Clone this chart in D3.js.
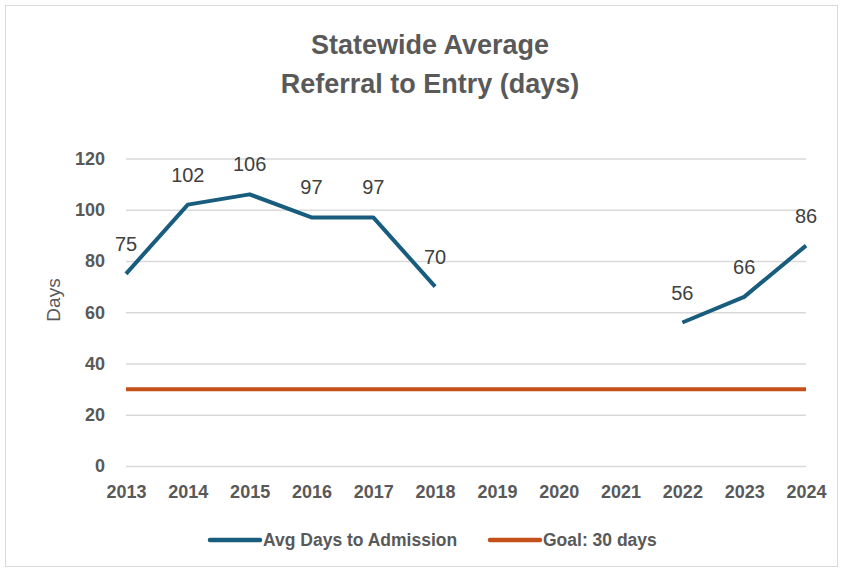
<!DOCTYPE html>
<html>
<head>
<meta charset="utf-8">
<script src="https://cdn.jsdelivr.net/npm/d3@7"></script>
<style>
  body { margin: 0; background: #fff; }
  svg { display: block; }
</style>
</head>
<body>
<svg id="chart" width="845" height="571"></svg>
<script>
// chart data
var years = ['2013', '2014', '2015', '2016', '2017', '2018', '2019', '2020', '2021', '2022', '2023', '2024'];
var avgDays = [75, 102, 106, 97, 97, 70, null, null, null, 56, 66, 86];
var goalDays = [30, 30, 30, 30, 30, 30, 30, 30, 30, 30, 30, 30];
var yTicks = [0, 20, 40, 60, 80, 100, 120];
var titleLines = ['Statewide Average', 'Referral to Entry (days)'];
var seriesNames = ['Avg Days to Admission', 'Goal: 30 days'];

var W = 845, H = 571;
var plot = {left: 126, right: 806, top: 158.5, bottom: 466};
var blue = '#185D7E', orange = '#C4501A';
var gray = '#595959';

var svg = d3.select('#chart');

// chart border
svg.append('rect')
  .attr('x', 5.5).attr('y', 5.5)
  .attr('width', 832).attr('height', 561)
  .attr('fill', '#fff')
  .attr('stroke', '#d9d9d9');

// title
svg.append('g').selectAll('text')
  .data(titleLines)
  .enter().append('text')
  .attr('x', 430)
  .attr('y', function(d, i){ return 54 + i * 39; })
  .attr('text-anchor', 'middle')
  .attr('font-family', '"Liberation Sans Narrow", "Liberation Sans", sans-serif')
  .attr('font-weight', 'bold')
  .attr('font-size', 27)
  .attr('fill', gray)
  .text(function(d){ return d; });

var x = d3.scalePoint()
  .domain(years)
  .range([plot.left, plot.right]);

var y = d3.scaleLinear()
  .domain([0, 120])
  .range([plot.bottom, plot.top]);

// gridlines + y labels
var yAxis = d3.axisLeft(y)
  .tickValues(yTicks)
  .tickSize(-(plot.right - plot.left))
  .tickPadding(21);

var gy = svg.append('g')
  .attr('transform', 'translate(' + plot.left + ',0)')
  .call(yAxis);
gy.select('.domain').remove();
gy.selectAll('.tick line')
  .attr('stroke', '#d9d9d9')
  .attr('stroke-width', 1.5);
gy.selectAll('.tick text')
  .attr('font-family', '"Liberation Sans", Arial, sans-serif')
  .attr('font-weight', 'bold')
  .attr('font-size', 18)
  .attr('fill', gray);

// x labels
var xAxis = d3.axisBottom(x).tickSize(0).tickPadding(19);
var gx = svg.append('g')
  .attr('transform', 'translate(0,' + plot.bottom + ')')
  .call(xAxis);
gx.select('.domain').remove();
gx.selectAll('.tick text')
  .attr('font-family', '"Liberation Sans", Arial, sans-serif')
  .attr('font-weight', 'bold')
  .attr('font-size', 18)
  .attr('fill', gray);

// y axis title
svg.append('text')
  .attr('transform', 'translate(60,300) rotate(-90)')
  .attr('text-anchor', 'middle')
  .attr('font-family', '"Liberation Sans", Arial, sans-serif')
  .attr('font-size', 19)
  .attr('fill', gray)
  .text('Days');

// goal line
var line = d3.line()
  .defined(function(d){ return d.v !== null; })
  .x(function(d){ return x(d.year); })
  .y(function(d){ return y(d.v); });

function pairs(arr){
  return years.map(function(yr, i){ return {year: yr, v: arr[i]}; });
}

svg.append('path')
  .datum(pairs(goalDays))
  .attr('d', line)
  .attr('fill', 'none')
  .attr('stroke', orange)
  .attr('stroke-width', 4);

svg.append('path')
  .datum(pairs(avgDays))
  .attr('d', line)
  .attr('fill', 'none')
  .attr('stroke', blue)
  .attr('stroke-width', 4)
  .attr('stroke-linejoin', 'round');

// data labels
svg.append('g').selectAll('text')
  .data(pairs(avgDays).filter(function(d){ return d.v !== null; }))
  .enter().append('text')
  .attr('x', function(d){ return x(d.year); })
  .attr('y', function(d){ return y(d.v) - 23; })
  .attr('text-anchor', 'middle')
  .attr('font-family', '"Liberation Sans", Arial, sans-serif')
  .attr('font-size', 20)
  .attr('fill', '#404040')
  .text(function(d){ return d.v; });

// legend
var legendX = [210, 490];
var lg = svg.append('g').selectAll('g')
  .data(seriesNames)
  .enter().append('g')
  .attr('transform', function(d, i){ return 'translate(' + legendX[i] + ',540)'; });
lg.append('line')
  .attr('x1', 0).attr('x2', 50)
  .attr('stroke', function(d, i){ return i === 0 ? blue : orange; })
  .attr('stroke-width', 4.5)
  .attr('stroke-linecap', 'round');
lg.append('text')
  .attr('x', 53)
  .attr('dy', '0.35em')
  .attr('font-family', '"Liberation Sans", Arial, sans-serif')
  .attr('font-weight', 'bold')
  .attr('font-size', 17.5)
  .attr('fill', gray)
  .text(function(d){ return d; });
</script>
</body>
</html>
